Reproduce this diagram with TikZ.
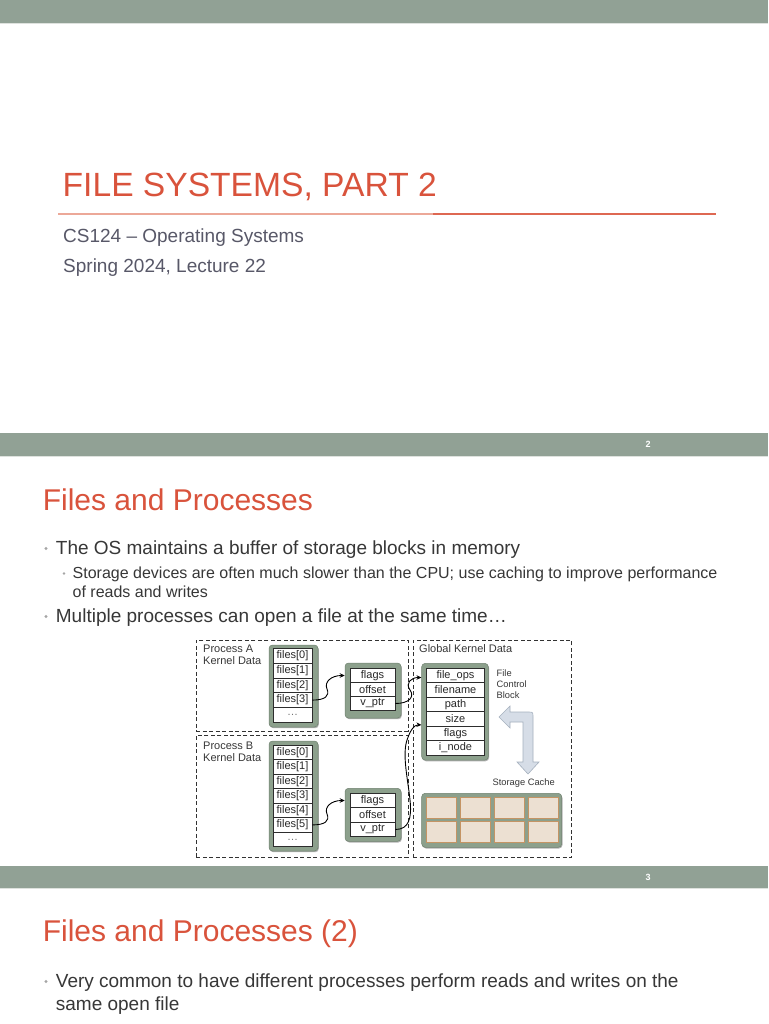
\documentclass[tikz,border=0pt]{standalone}
\usepackage{fontspec}
\setmainfont{Liberation Sans}
\usetikzlibrary{shadows,arrows.meta,calc}
\definecolor{band}{RGB}{145,161,149}
\definecolor{bandline}{RGB}{222,226,222}
\definecolor{titlered}{RGB}{217,83,60}
\definecolor{titlelight}{RGB}{236,168,152}
\definecolor{titleline}{RGB}{222,104,82}
\definecolor{bodytext}{RGB}{55,55,55}
\definecolor{subtext}{RGB}{88,88,104}
\definecolor{bulletgray}{RGB}{165,165,165}
\definecolor{boxgreen}{RGB}{140,160,140}
\definecolor{boxgreenedge}{RGB}{112,130,112}
\definecolor{cellline}{RGB}{45,45,45}
\definecolor{celltext}{RGB}{40,40,40}
\definecolor{cachecell}{RGB}{236,224,210}
\definecolor{cacheedge}{RGB}{196,148,100}
\definecolor{arrowfill}{RGB}{214,221,231}
\definecolor{arrowedge}{RGB}{165,176,190}
\definecolor{dashcol}{RGB}{50,50,50}
\begin{document}
\begin{tikzpicture}[x=1pt,y=-1pt,
  txt/.style={inner sep=0pt, text=bodytext},
  bigtitle/.style={txt, anchor=base west, text=titlered, font=\fontsize{33.6}{40}\selectfont},
  slidetitle/.style={txt, anchor=base west, text=titlered, font=\fontsize{30}{36}\selectfont},
  subline/.style={txt, anchor=base west, text=subtext, font=\fontsize{19}{23}\selectfont},
  bodyline/.style={txt, anchor=base west, font=\fontsize{19}{23}\selectfont},
  subbody/.style={txt, anchor=base west, font=\fontsize{16}{19}\selectfont},
  pagenum/.style={txt, text=white, font=\fontsize{9}{9}\bfseries\selectfont},
  dbox/.style={draw=dashcol, dash pattern=on 4pt off 2.5pt, line width=0.75pt, inner sep=0pt, anchor=north west},
  dlabel/.style={txt, anchor=west, font=\fontsize{11}{11}\selectfont},
  smalllabel/.style={txt, anchor=west, font=\fontsize{9.3}{9.3}\selectfont},
  gbox/.style={fill=boxgreen, draw=boxgreenedge, line width=0.5pt, rounded corners=3.5pt, inner sep=0pt,
    drop shadow={shadow xshift=0.8pt, shadow yshift=-1.2pt, opacity=0.3, fill=black}},
  cell/.style={draw=cellline, fill=white, line width=0.6pt, inner sep=0pt, text=celltext, font=\fontsize{11}{11}\selectfont},
  fcell/.style={cell, minimum width=39pt, minimum height=14.8pt},
  fbcell/.style={cell, minimum width=39pt, minimum height=14.53pt},
  flcell/.style={cell, minimum width=45pt, minimum height=14pt},
  fccell/.style={cell, minimum width=57.6pt, minimum height=14.45pt},
  ccell/.style={draw=cacheedge, fill=cachecell, line width=0.8pt, inner sep=0pt, minimum width=30pt, minimum height=20.5pt},
  conn/.style={draw=black, line width=0.9pt, -{Stealth[length=5pt,width=4.5pt]}},
  bigarrow/.style={fill=arrowfill, draw=arrowedge, line width=0.6pt}
]
\useasboundingbox (0,0) rectangle (768,1024);
\fill[white] (0,0) rectangle (768,1024);

% ---------- bands ----------
\fill[band] (0,0) rectangle (768,23);
\draw[bandline, line width=1pt] (0,23.5) -- (768,23.5);
\fill[band] (0,433) rectangle (768,456);
\draw[bandline, line width=1pt] (0,456.5) -- (768,456.5);
\fill[band] (0,866) rectangle (768,888);
\draw[bandline, line width=1pt] (0,888.5) -- (768,888.5);
\node[pagenum] (pn2) at (648,444.5) {2};
\node[pagenum] (pn3) at (648,877.5) {3};

% ---------- slide 1 ----------
\node[bigtitle] (t1) at (62.5,197) {FILE SYSTEMS, PART 2};
\draw[titlelight, line width=1.3pt] (58,214) -- (433,214);
\draw[titleline, line width=1.3pt] (433,214) -- (716,214);
\node[subline] (st1) at (63,243) {CS124 – Operating Systems};
\node[subline] (st2) at (63,272) {Spring 2024, Lecture 22};

% ---------- slide 2 ----------
\node[slidetitle] (t2) at (42.6,510) {Files and Processes};
\fill[bulletgray] (46,548.5) circle (1.6pt);
\node[bodyline] (b1) at (55.7,554.5) {The OS maintains a buffer of storage blocks in memory};
\fill[bulletgray] (64,573.5) circle (1.3pt);
\node[subbody] (s1a) at (72.5,578.5) {Storage devices are often much slower than the CPU; use caching to improve performance};
\node[subbody] (s1b) at (72.5,597.5) {of reads and writes};
\fill[bulletgray] (46,616.5) circle (1.6pt);
\node[bodyline] (b2) at (55.7,622.5) {Multiple processes can open a file at the same time…};

% dashed regions
\node[dbox, minimum width=211.5pt, minimum height=91pt] (pA) at (196,639.5) {};
\node[dbox, minimum width=211.5pt, minimum height=122pt] (pB) at (196,735) {};
\node[dbox, minimum width=158.5pt, minimum height=217pt] (gK) at (412.7,640) {};

\node[dlabel] (lA1) at (203,649) {Process A};
\node[dlabel] (lA2) at (203,661) {Kernel Data};
\node[dlabel] (lB1) at (203,746) {Process B};
\node[dlabel] (lB2) at (203,758) {Kernel Data};
\node[dlabel] (lG) at (419,649) {Global Kernel Data};

% Process A file table
\node[gbox, minimum width=49pt, minimum height=82pt] (tA) at (293.5,686) {};
\node[fcell] (fA0) at (292.5,655.7) {files[0]};
\node[fcell] (fA1) at (292.5,670.5) {files[1]};
\node[fcell] (fA2) at (292.5,685.3) {files[2]};
\node[fcell] (fA3) at (292.5,700.1) {files[3]};
\node[fcell, text=bodytext!70] (fA4) at (292.5,714.9) {…};

% Process A open-file entry
\node[gbox, minimum width=56pt, minimum height=55pt] (oflA) at (373,690.5) {};
\node[flcell] (flA0) at (372.5,675.5) {flags};
\node[flcell] (flA1) at (372.5,689.5) {offset};
\node[flcell] (flA2) at (372.5,703.5) {v\_ptr};

% Process B file table
\node[gbox, minimum width=49pt, minimum height=110pt] (tB) at (293.5,796) {};
\node[fbcell] (fB0) at (292.5,752.3) {files[0]};
\node[fbcell] (fB1) at (292.5,766.8) {files[1]};
\node[fbcell] (fB2) at (292.5,781.3) {files[2]};
\node[fbcell] (fB3) at (292.5,795.9) {files[3]};
\node[fbcell] (fB4) at (292.5,810.4) {files[4]};
\node[fbcell] (fB5) at (292.5,824.9) {files[5]};
\node[fbcell, text=bodytext!70] (fB6) at (292.5,839.5) {…};

% Process B open-file entry
\node[gbox, minimum width=56pt, minimum height=53pt] (oflB) at (373,814.8) {};
\node[flcell, minimum height=14.47pt] (flB0) at (372.5,800.5) {flags};
\node[flcell, minimum height=14.47pt] (flB1) at (372.5,815) {offset};
\node[flcell, minimum height=14.47pt] (flB2) at (372.5,829.5) {v\_ptr};

% File control block
\node[gbox, minimum width=66.6pt, minimum height=96.7pt] (ofcb) at (455,711.7) {};
\node[fccell] (fc0) at (455.5,675.5) {file\_ops};
\node[fccell] (fc1) at (455.5,690) {filename};
\node[fccell] (fc2) at (455.5,704.4) {path};
\node[fccell] (fc3) at (455.5,718.9) {size};
\node[fccell] (fc4) at (455.5,733.3) {flags};
\node[fccell] (fc5) at (455.5,747.8) {i\_node};
\node[smalllabel] (fcbl1) at (496.5,673.5) {File};
\node[smalllabel] (fcbl2) at (496.5,684.5) {Control};
\node[smalllabel] (fcbl3) at (496.5,695.5) {Block};

% hollow L arrow between FCB and storage cache
\draw[bigarrow] (499,717) -- (510,706) -- (510,712) -- (528,712)
  .. controls (533,712) .. (533,717) -- (533,762) -- (539,762) -- (528,774)
  -- (517,762) -- (523,762) -- (523,722) -- (510,722) -- (510,728) -- cycle;

% storage cache
\node[txt, font=\fontsize{9.3}{9.3}\selectfont] (scl) at (523.7,782.7) {Storage Cache};
\node[gbox, minimum width=140pt, minimum height=54pt] (cache) at (491.7,820.3) {};
\node[ccell] (c11) at (441,807.8) {};
\node[ccell] (c12) at (475.3,807.8) {};
\node[ccell] (c13) at (509.5,807.8) {};
\node[ccell] (c14) at (543.7,807.8) {};
\node[ccell] (c21) at (441,831.7) {};
\node[ccell] (c22) at (475.3,831.7) {};
\node[ccell] (c23) at (509.5,831.7) {};
\node[ccell] (c24) at (543.7,831.7) {};

% connectors
\draw[conn] (fA3.east) .. controls (325,700.1) and (330,696) .. (327,689)
  .. controls (324,682) and (331,675.5) .. (oflA.west |- flA0);
\draw[conn] (fB5.east) .. controls (325,824.9) and (330,821) .. (327,814)
  .. controls (324,807) and (331,800.5) .. (oflB.west |- flB0);
\draw[conn] (flA2.east) .. controls (409,703.5) and (415,697) .. (410,690)
  .. controls (405,683) and (411,677.5) .. ([yshift=-2pt]ofcb.west |- fc0);
\draw[conn] (flB2.east) .. controls (409,829.5) and (412,818) .. (410,800)
  .. controls (408,780) and (402,755) .. (407,740)
  .. controls (410,731) and (414,724.6) .. ([yshift=1.5pt]ofcb.west |- fc3.south);

% ---------- slide 3 ----------
\node[slidetitle] (t3) at (42.6,941) {Files and Processes (2)};
\fill[bulletgray] (46,981.5) circle (1.6pt);
\node[bodyline] (b3a) at (55.7,987.5) {Very common to have different processes perform reads and writes on the};
\node[bodyline] (b3b) at (55.7,1010.5) {same open file};
\end{tikzpicture}
\end{document}
